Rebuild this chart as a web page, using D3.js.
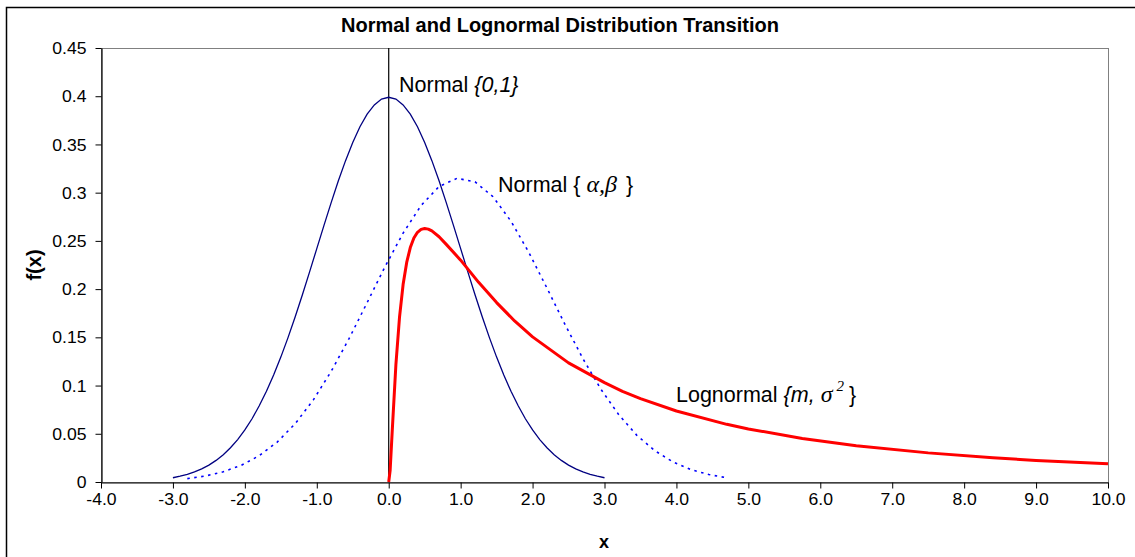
<!DOCTYPE html>
<html>
<head>
<meta charset="utf-8">
<script src="https://cdn.jsdelivr.net/npm/d3@7"></script>
<style>
  html, body { margin: 0; padding: 0; background: #fff; }
  svg { display: block; }
  text { font-family: "Liberation Sans", Arial, sans-serif; fill: #000; }
</style>
</head>
<body>
<svg id="chart" width="1135" height="557"></svg>
<script>
// Axis ticks
const xTicks = [-4, -3, -2, -1, 0, 1, 2, 3, 4, 5, 6, 7, 8, 9, 10];
const yTicks = [0, 0.05, 0.1, 0.15, 0.2, 0.25, 0.3, 0.35, 0.4, 0.45];

// Standard normal {0,1}
const normX = [-3.0, -2.9, -2.8, -2.7, -2.6, -2.5, -2.4, -2.3, -2.2, -2.1, -2.0, -1.9, -1.8, -1.7, -1.6,
  -1.5, -1.4, -1.3, -1.2, -1.1, -1.0, -0.9, -0.8, -0.7, -0.6, -0.5, -0.4, -0.3, -0.2, -0.1, 0.0,
  0.1, 0.2, 0.3, 0.4, 0.5, 0.6, 0.7, 0.8, 0.9, 1.0, 1.1, 1.2, 1.3, 1.4, 1.5, 1.6, 1.7, 1.8, 1.9,
  2.0, 2.1, 2.2, 2.3, 2.4, 2.5, 2.6, 2.7, 2.8, 2.9, 3.0];
const normY = [0.0044, 0.0060, 0.0079, 0.0104, 0.0136, 0.0175, 0.0224, 0.0283, 0.0355, 0.0440, 0.0540,
  0.0656, 0.0790, 0.0940, 0.1109, 0.1295, 0.1497, 0.1714, 0.1942, 0.2179, 0.2420, 0.2661, 0.2897,
  0.3123, 0.3332, 0.3521, 0.3683, 0.3814, 0.3910, 0.3970, 0.3989,
  0.3970, 0.3910, 0.3814, 0.3683, 0.3521, 0.3332, 0.3123, 0.2897, 0.2661, 0.2420, 0.2179, 0.1942,
  0.1714, 0.1497, 0.1295, 0.1109, 0.0940, 0.0790, 0.0656, 0.0540, 0.0440, 0.0355, 0.0283, 0.0224,
  0.0175, 0.0136, 0.0104, 0.0079, 0.0060, 0.0044];

// Normal {alpha, beta}
const shiftX = [-2.8, -2.55, -2.3, -2.05, -1.8, -1.55, -1.3, -1.05, -0.8, -0.55, -0.3, -0.05, 0.2, 0.45,
  0.7, 0.95, 1.2, 1.45, 1.7, 1.95, 2.2, 2.45, 2.7, 2.95, 3.2, 3.45, 3.7, 3.95, 4.2, 4.45, 4.7];
const shiftY = [0.0035, 0.0062, 0.0106, 0.0173, 0.0273, 0.0414, 0.0605, 0.0849, 0.1147, 0.1489, 0.1860,
  0.2234, 0.2581, 0.2867, 0.3064, 0.3149, 0.3112, 0.2958, 0.2704, 0.2378, 0.2011, 0.1635, 0.1279,
  0.0962, 0.0696, 0.0484, 0.0324, 0.0209, 0.0129, 0.0077, 0.0044];

// Lognormal {m, sigma^2}
const logX = [0, 0.02, 0.05, 0.1, 0.15, 0.2, 0.25, 0.3, 0.35, 0.4, 0.45, 0.5, 0.55, 0.6, 0.7, 0.8, 1.0,
  1.25, 1.5, 1.75, 2.0, 2.5, 3.0, 3.25, 3.5, 4.0, 4.7, 5.0, 5.75, 6.5, 7.5, 8.4, 9.0, 10.0];
const logY = [0, 0.0122, 0.0545, 0.1218, 0.1708, 0.2047, 0.2277, 0.2431, 0.2530, 0.2589, 0.2619, 0.2628,
  0.2622, 0.2603, 0.2543, 0.2464, 0.2300, 0.2070, 0.1860, 0.1670, 0.1505, 0.1235, 0.1030, 0.0940,
  0.0865, 0.0736, 0.0598, 0.0550, 0.0452, 0.0377, 0.0302, 0.0251, 0.0223, 0.0190];

const svg = d3.select("#chart");

// chart area frame
svg.append("rect")
  .attr("x", 6.5).attr("y", 7.5)
  .attr("width", 1140).attr("height", 560)
  .attr("fill", "#fff").attr("stroke", "#000").attr("stroke-width", 1.5);

const plot = { left: 101, right: 1108, top: 48, bottom: 482 };

const x = d3.scaleLinear().domain([-4, 10]).range([plot.left, plot.right]);
const y = d3.scaleLinear().domain([0, 0.45]).range([plot.bottom, plot.top]);

// plot area border
svg.append("rect")
  .attr("x", plot.left + 0.5).attr("y", plot.top + 0.5)
  .attr("width", plot.right - plot.left).attr("height", plot.bottom - plot.top)
  .attr("fill", "#fff").attr("stroke", "#808080").attr("stroke-width", 1);

// axes (tick labels use a plain hyphen for negatives)
const xAxis = d3.axisBottom(x).tickValues(xTicks).tickSize(6).tickSizeOuter(0)
  .tickFormat(d => d.toFixed(1).replace("\u2212", "-"));
const yAxis = d3.axisLeft(y).tickValues(yTicks).tickSize(6).tickSizeOuter(0)
  .tickFormat(d => d === 0 ? "0" : String(+d.toFixed(2)));

const gx = svg.append("g").attr("transform", `translate(0,${plot.bottom + 0.5})`).call(xAxis);
const gy = svg.append("g").attr("transform", `translate(${plot.left + 0.5},0)`).call(yAxis);

const stretch = 1.1;
[gx, gy].forEach(g => {
  g.attr("font-family", null).attr("font-size", null);
  g.select(".domain").attr("stroke", "#000").attr("stroke-width", 1.2);
  g.selectAll(".tick line").attr("stroke", "#000");
  g.selectAll(".tick text")
    .attr("font-family", "'Liberation Sans', Arial, sans-serif")
    .attr("font-size", 16).attr("fill", "#000")
    .attr("transform", `scale(${stretch},1)`);
});
gx.selectAll(".tick text").attr("y", 11).attr("dy", "0.71em");
gy.selectAll(".tick text").attr("x", -15 / stretch).attr("dy", "0.35em");

// vertical reference line at x = 0
svg.append("line")
  .attr("x1", x(0)).attr("x2", x(0))
  .attr("y1", y(0.45)).attr("y2", y(0))
  .attr("stroke", "#000").attr("stroke-width", 1.2);

const line = d3.line().x(d => x(d[0])).y(d => y(d[1]));

// Normal {alpha, beta} (dotted)
svg.append("path")
  .datum(d3.zip(shiftX, shiftY))
  .attr("d", line)
  .attr("fill", "none").attr("stroke", "#0000ff").attr("stroke-width", 1.6)
  .attr("stroke-dasharray", "2.5,4.5");

// Normal {0,1}
svg.append("path")
  .datum(d3.zip(normX, normY))
  .attr("d", line)
  .attr("fill", "none").attr("stroke", "#000080").attr("stroke-width", 1.3);

// Lognormal
svg.append("path")
  .datum(d3.zip(logX, logY))
  .attr("d", line)
  .attr("fill", "none").attr("stroke", "#ff0000").attr("stroke-width", 3)
  .attr("stroke-linejoin", "round");

// title and axis titles
svg.append("text")
  .attr("x", 560).attr("y", 32)
  .attr("text-anchor", "middle")
  .attr("font-size", 20).attr("font-weight", "bold")
  .text("Normal and Lognormal Distribution Transition");

svg.append("text")
  .attr("x", 604).attr("y", 548)
  .attr("text-anchor", "middle")
  .attr("font-size", 18).attr("font-weight", "bold")
  .text("x");

svg.append("text")
  .attr("transform", "translate(41,265) rotate(-90)")
  .attr("text-anchor", "middle")
  .attr("font-size", 20).attr("font-weight", "bold")
  .text("f(x)");

// curve labels
const serif = "'Liberation Serif', 'DejaVu Serif', serif";

const lab1 = svg.append("text").attr("x", 399).attr("y", 92).attr("font-size", 21.5);
lab1.append("tspan").text("Normal ");
lab1.append("tspan").attr("font-style", "italic").text("{0,1}");

const lab2 = svg.append("text").attr("x", 498).attr("y", 192).attr("font-size", 21.5);
lab2.append("tspan").text("Normal { ");
lab2.append("tspan").attr("font-family", serif).attr("font-style", "italic").attr("font-size", 24).text("α,β");
lab2.append("tspan").attr("dx", 3).text(" }");

const lab3 = svg.append("text").attr("x", 676).attr("y", 402).attr("font-size", 21.5);
lab3.append("tspan").text("Lognormal ");
lab3.append("tspan").attr("font-style", "italic").text("{m, ");
lab3.append("tspan").attr("font-family", serif).attr("font-style", "italic").attr("font-size", 24).text("σ");
lab3.append("tspan").attr("font-family", serif).attr("font-style", "italic").attr("font-size", 15).attr("dy", -11).attr("dx", 4).text("2");
lab3.append("tspan").attr("dy", 11).attr("dx", 5).text("}");
</script>
</body>
</html>
